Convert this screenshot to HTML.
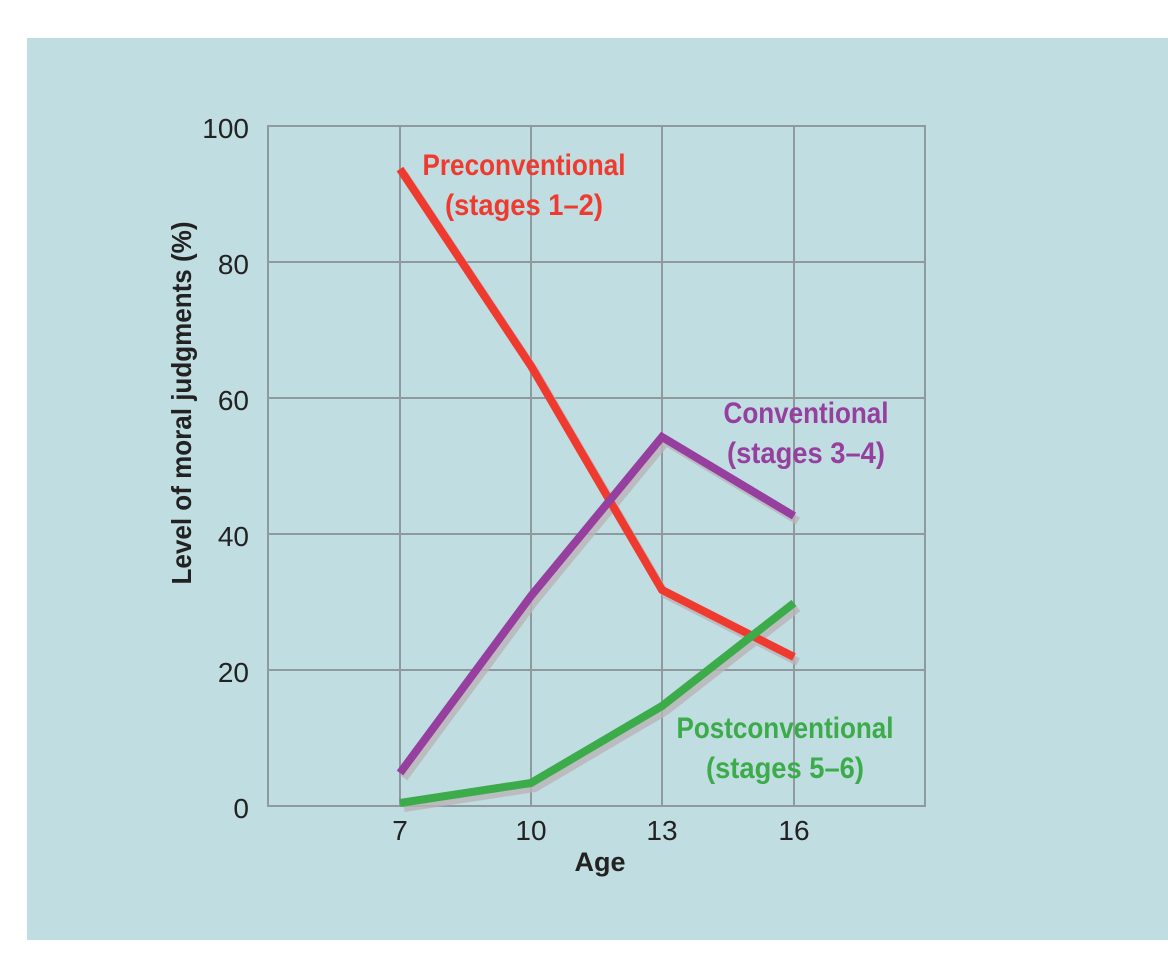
<!DOCTYPE html>
<html><head><style>
body{margin:0;background:#fff;}
svg{display:block}
</style></head><body>
<svg width="1168" height="975" xmlns="http://www.w3.org/2000/svg" font-family="'Liberation Sans',sans-serif">
<rect x="27" y="38" width="1141" height="902" fill="#c0dde1"/>
<g stroke="#8e9a9e" stroke-width="2" fill="none">
<rect x="268" y="126" width="657" height="680"/>
<line x1="400" y1="126" x2="400" y2="806"/>
<line x1="531" y1="126" x2="531" y2="806"/>
<line x1="662" y1="126" x2="662" y2="806"/>
<line x1="794" y1="126" x2="794" y2="806"/>
<line x1="268" y1="262" x2="925" y2="262"/>
<line x1="268" y1="398" x2="925" y2="398"/>
<line x1="268" y1="534" x2="925" y2="534"/>
<line x1="268" y1="670" x2="925" y2="670"/>
</g>
<g fill="none" stroke-width="8" stroke-linejoin="miter">
<g stroke="#b9b4b8" opacity="0.8" transform="translate(4,5)">
<polyline points="400,169 531,366 662,590 794,657"/>
<polyline points="400,773 531,596 662,437 794,516"/>
<polyline points="400,803 531,783 662,706 794,603"/>
</g>
<polyline stroke="#ef3b2f" points="400,169 531,366 662,590 794,657"/>
<polyline stroke="#963f9f" points="400,773 531,596 662,437 794,516"/>
<polyline stroke="#3cab4a" points="400,803 531,783 662,706 794,603"/>
</g>
<g font-size="28" fill="#222" text-anchor="end">
<text x="249" y="138">100</text>
<text x="249" y="274">80</text>
<text x="249" y="410">60</text>
<text x="249" y="546">40</text>
<text x="249" y="682">20</text>
<text x="249" y="818">0</text>
</g>
<g font-size="28" fill="#222" text-anchor="middle">
<text x="400" y="840">7</text>
<text x="531" y="840">10</text>
<text x="662" y="840">13</text>
<text x="794" y="840">16</text>
<text x="600" y="871" font-weight="bold" font-size="27">Age</text>
<text transform="translate(191,403) rotate(-90)" font-weight="bold" font-size="28" textLength="363" lengthAdjust="spacingAndGlyphs">Level of moral judgments (%)</text>
</g>
<g font-size="30" font-weight="bold" text-anchor="middle" lengthAdjust="spacingAndGlyphs">
<text x="524" y="175" fill="#ef3b2f" textLength="203" lengthAdjust="spacingAndGlyphs">Preconventional</text>
<text x="524" y="215" fill="#ef3b2f" textLength="158" lengthAdjust="spacingAndGlyphs">(stages 1–2)</text>
<text x="806" y="423" fill="#963f9f" textLength="165" lengthAdjust="spacingAndGlyphs">Conventional</text>
<text x="806" y="463" fill="#963f9f" textLength="158" lengthAdjust="spacingAndGlyphs">(stages 3–4)</text>
<text x="785" y="738" fill="#3cab4a" textLength="217" lengthAdjust="spacingAndGlyphs">Postconventional</text>
<text x="785" y="778" fill="#3cab4a" textLength="158" lengthAdjust="spacingAndGlyphs">(stages 5–6)</text>
</g>
</svg>
</body></html>
